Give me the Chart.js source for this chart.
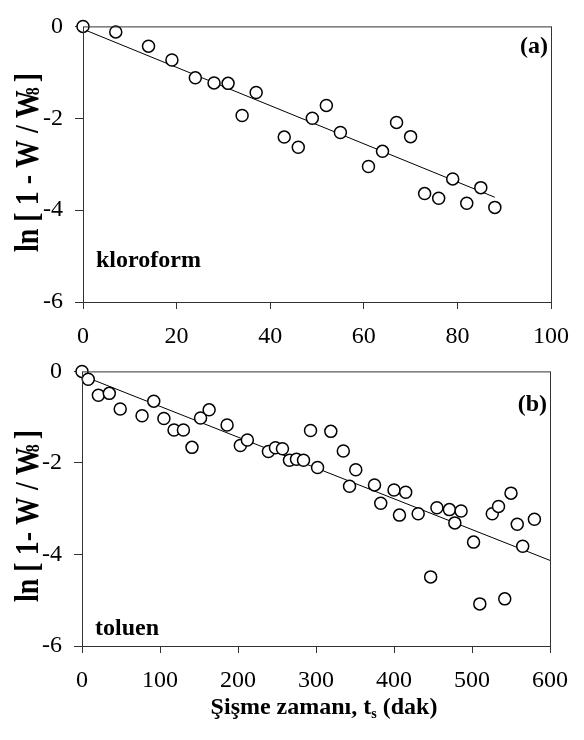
<!DOCTYPE html>
<html>
<head>
<meta charset="utf-8">
<script src="https://cdn.jsdelivr.net/npm/chart.js@4"></script>
<style>
  body { margin: 0; background: #fff; }
  canvas { position: absolute; left: 0; }
  #c1 { top: 0; }
  #c2 { top: 345px; }
</style>
</head>
<body>
<canvas id="c1" width="584" height="360"></canvas>
<canvas id="c2" width="584" height="395"></canvas>
<script>
// (a) kloroform
const kloX = [0, 7, 14, 19, 24, 28, 31, 34, 37, 43, 46, 49, 52, 55, 61, 64, 67, 70, 73, 76, 79, 82, 85, 88];
const kloY = [0, -0.12, -0.43, -0.73, -1.12, -1.23, -1.24, -1.94, -1.44, -2.41, -2.63, -2.0, -1.72, -2.31, -3.05, -2.72, -2.09, -2.40, -3.64, -3.74, -3.32, -3.85, -3.51, -3.94];
const kloFitX = [0, 88];
const kloFitY = [-0.06, -3.72];

// (b) toluen
const tolX = [0, 8, 21, 35, 49, 77, 92, 105, 118, 130, 141, 152, 163, 186, 203, 212, 239, 248, 257, 266, 275, 284, 293, 302, 319, 335, 343, 351, 375, 383, 400, 407, 415, 431, 447, 455, 471, 478, 486, 502, 510, 526, 534, 542, 550, 558, 565, 580];
const tolY = [0, -0.17, -0.52, -0.48, -0.82, -0.97, -0.65, -1.03, -1.28, -1.28, -1.66, -1.02, -0.84, -1.17, -1.62, -1.5, -1.75, -1.67, -1.69, -1.94, -1.92, -1.94, -1.29, -2.10, -1.31, -1.74, -2.51, -2.15, -2.48, -2.88, -2.59, -3.14, -2.64, -3.11, -4.49, -2.98, -3.02, -3.31, -3.05, -3.73, -5.08, -3.11, -2.95, -4.97, -2.66, -3.34, -3.82, -3.23];
const tolFitX = [0, 600];
const tolFitY = [-0.09, -4.13];

const yTicks = [0, -2, -4, -6];

const serif = 'Liberation Serif';
const toPts = (xs, ys) => xs.map((x, i) => ({ x: x, y: ys[i] }));

// box around plot + panel texts + rotated y title
const decorPlugin = {
    id: 'decor',
    afterDraw(chart) {
        const ctx = chart.ctx;
        const a = chart.chartArea;
        const o = chart.options.plugins.decor;
        ctx.save();
        ctx.strokeStyle = '#333';
        ctx.lineWidth = 1;
        ctx.strokeRect(a.left + 0.5, a.top + 0.5, a.right - a.left, a.bottom - a.top);

        ctx.fillStyle = '#000';
        ctx.font = 'bold 24px ' + serif;
        ctx.textBaseline = 'alphabetic';
        ctx.textAlign = 'right';
        ctx.fillText(o.tag, a.right - 3, a.top + o.tagDy);
        ctx.textAlign = 'left';
        ctx.fillText(o.solvent, a.left + 13, a.bottom - o.solventDy);

        // y title, rotated
        ctx.translate(38, o.yTitleStart);
        ctx.rotate(-Math.PI / 2);
        ctx.scale(1, 1.2);
        ctx.font = 'bold 28px ' + serif;
        ctx.fillText(o.yTitle, 0, 0);
        let w = ctx.measureText(o.yTitle).width;
        ctx.font = 'bold 16px ' + serif;
        ctx.fillText('8', w - 5, 1);
        w += ctx.measureText('8').width;
        ctx.font = 'bold 28px ' + serif;
        ctx.fillText(' ]', w - 7, 0);
        ctx.restore();

        if (o.xTitle) {
            ctx.save();
            ctx.fillStyle = '#000';
            ctx.textBaseline = 'alphabetic';
            ctx.font = 'bold 24px ' + serif;
            const p1 = 'Şişme zamanı, t', p2 = 's', p3 = ' (dak)';
            const w1 = ctx.measureText(p1).width;
            const w3 = ctx.measureText(p3).width;
            ctx.font = 'bold 14px ' + serif;
            const w2 = ctx.measureText(p2).width;
            let x = (a.left + a.right) / 2 + 8 - (w1 + w2 + w3) / 2;
            const y = chart.height - 26;
            ctx.font = 'bold 24px ' + serif;
            ctx.fillText(p1, x, y);
            ctx.font = 'bold 14px ' + serif;
            ctx.fillText(p2, x + w1, y + 4);
            ctx.font = 'bold 24px ' + serif;
            ctx.fillText(p3, x + w1 + w2, y);
            ctx.restore();
        }
    }
};

function makeChart(id, pts, fit, xMax, xStep, yWidth, xHeight, pad, decor) {
    return new Chart(document.getElementById(id), {
        type: 'scatter',
        data: {
            datasets: [{
                data: pts,
                pointRadius: 6,
                pointBorderWidth: 1.5,
                pointBorderColor: '#000',
                pointBackgroundColor: '#fff',
                clip: false,
                order: 1
            }, {
                data: fit,
                showLine: true,
                borderColor: '#000',
                borderWidth: 1,
                pointRadius: 0,
                order: 2
            }]
        },
        options: {
            responsive: false,
            animation: false,
            layout: { padding: pad },
            plugins: {
                legend: { display: false },
                tooltip: { enabled: false },
                decor: decor
            },
            scales: {
                x: {
                    type: 'linear',
                    min: 0,
                    max: xMax,
                    afterFit: s => { s.height = xHeight; },
                    grid: { drawOnChartArea: false, tickLength: 7, color: '#333' },
                    border: { color: '#333' },
                    ticks: {
                        stepSize: xStep,
                        padding: 13,
                        maxRotation: 0,
                        color: '#000',
                        font: { family: serif, size: 24 }
                    }
                },
                y: {
                    min: -6,
                    max: 0,
                    afterFit: s => { s.width = yWidth; },
                    afterBuildTicks: s => { s.ticks = yTicks.map(v => ({ value: v })); },
                    grid: { drawOnChartArea: false, tickLength: 8, color: '#333' },
                    border: { color: '#333' },
                    ticks: {
                        padding: 12,
                        color: '#000',
                        font: { family: serif, size: 24 }
                    }
                }
            }
        },
        plugins: [decorPlugin]
    });
}

makeChart('c1', toPts(kloX, kloY), toPts(kloFitX, kloFitY), 100, 20, 83, 58,
    { top: 13, right: 33, bottom: 0, left: 0 },
    { tag: '(a)', tagDy: 27, solvent: 'kloroform', solventDy: 35, yTitle: 'ln [ 1 - W / W', yTitleStart: 252 });

makeChart('c2', toPts(tolX, tolY), toPts(tolFitX, tolFitY), 600, 100, 82, 94,
    { top: 12, right: 34, bottom: 0, left: 0 },
    { tag: '(b)', tagDy: 40, solvent: 'toluen', solventDy: 11, yTitle: 'ln [ 1- W / W', yTitleStart: 257, xTitle: true });
</script>
</body>
</html>
